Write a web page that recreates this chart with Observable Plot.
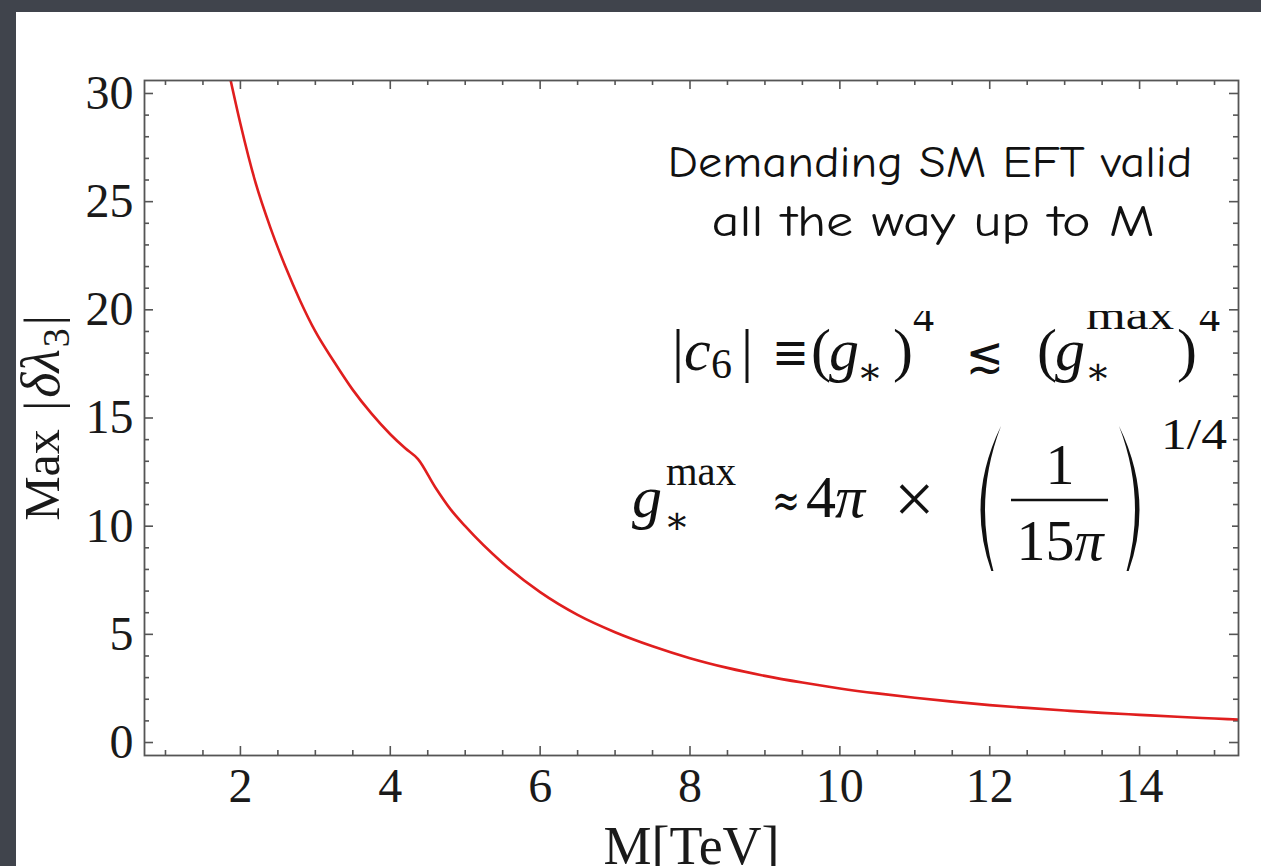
<!DOCTYPE html>
<html><head><meta charset="utf-8">
<script src="https://cdn.jsdelivr.net/npm/d3@7"></script>
<script src="https://cdn.jsdelivr.net/npm/@observablehq/plot@0.6"></script>
<style>
html,body{margin:0;padding:0;width:1261px;height:866px;overflow:hidden;background:#40444c;}
#panel{position:absolute;left:16px;top:12px;width:1245px;height:854px;background:#fff;}
#overlay{position:absolute;left:0;top:0;pointer-events:none;}
</style></head><body>
<div id="panel"></div>
<svg id="overlay" width="1261" height="866"></svg>
<script>
// ---- data ----
const massTeV = [1.87, 2.0, 2.2, 2.4, 2.6, 2.8, 3.0, 3.25, 3.5, 3.75, 4.0, 4.2, 4.37, 4.6, 4.8, 5.0, 5.5, 6.0, 6.5, 7.0, 7.5, 8.0, 8.5, 9.0, 9.5, 10.0, 10.5, 11.0, 11.5, 12.0, 12.5, 13.0, 13.5, 14.0, 14.5, 15.0, 15.32];
const maxDeltaLambda3 = [30.6, 28.6, 25.9, 23.8, 22.0, 20.4, 19.0, 17.6, 16.3, 15.2, 14.25, 13.6, 13.1, 11.8, 10.8, 10.0, 8.3, 6.95, 5.9, 5.1, 4.45, 3.9, 3.45, 3.08, 2.77, 2.5, 2.27, 2.07, 1.89, 1.73, 1.6, 1.48, 1.37, 1.28, 1.19, 1.11, 1.06];
const xMajorTicks = [2, 4, 6, 8, 10, 12, 14];
const xMinorTicks = [1, 1.5, 2.5, 3, 3.5, 4.5, 5, 5.5, 6.5, 7, 7.5, 8.5, 9, 9.5, 10.5, 11, 11.5, 12.5, 13, 13.5, 14.5, 15];
const yMajorTicks = [0, 5, 10, 15, 20, 25, 30];
const yMinorTicks = [1, 2, 3, 4, 6, 7, 8, 9, 11, 12, 13, 14, 16, 17, 18, 19, 21, 22, 23, 24, 26, 27, 28, 29];
const xLabel = "M[TeV]";
const yLabel = "Max |δλ3|";
const noteLines = ["Demanding SM EFT valid", "all the way up to M"];

const curve = massTeV.map((m, i) => ({m, v: maxDeltaLambda3[i]}));

const W = 1245, H = 854, mL = 128, mT = 68, mR = 23, mB = 111;
const innerW = W - mL - mR, innerH = H - mT - mB;
const ink = "#555";
const tk = {stroke: ink, strokeWidth: 1.6};
const id = d => d;

const chart = Plot.plot({
  width: W, height: H,
  marginLeft: mL, marginTop: mT, marginRight: mR, marginBottom: mB,
  style: {fontFamily: "'Liberation Serif', 'Times New Roman', serif", fontSize: "48px", color: "#1a1a1a", background: "transparent", overflow: "visible"},
  x: {domain: [0.72, 15.32], ticks: xMajorTicks, tickSize: 0, tickPadding: 12, label: null},
  y: {domain: [-0.6, 30.6], ticks: yMajorTicks, tickSize: 0, tickPadding: 11, label: null},
  marks: [
    Plot.tickX(xMajorTicks, {x: id, insetTop: innerH - 9, ...tk}),
    Plot.tickX(xMinorTicks, {x: id, insetTop: innerH - 5, ...tk}),
    Plot.tickX(xMajorTicks, {x: id, insetBottom: innerH - 9, ...tk}),
    Plot.tickX(xMinorTicks, {x: id, insetBottom: innerH - 5, ...tk}),
    Plot.tickY(yMajorTicks, {y: id, insetRight: innerW - 9, ...tk}),
    Plot.tickY(yMinorTicks, {y: id, insetRight: innerW - 5, ...tk}),
    Plot.tickY(yMajorTicks, {y: id, insetLeft: innerW - 9, ...tk}),
    Plot.tickY(yMinorTicks, {y: id, insetLeft: innerW - 5, ...tk}),
    Plot.line(curve, {x: "m", y: "v", stroke: "#e01e1e", strokeWidth: 2.6, curve: "monotone-x", clip: true}),
    Plot.frame({stroke: ink, strokeWidth: 1.8}),
    Plot.text([xLabel], {text: id, frameAnchor: "bottom", lineAnchor: "middle", textAnchor: "middle", dy: 91, fontSize: 54, fill: "#1a1a1a"}),
    Plot.text([yLabel], {text: id, frameAnchor: "left", lineAnchor: "middle", textAnchor: "middle", rotate: -90, dx: -102, fontSize: 50, fill: "#1a1a1a"})
  ]
});
document.getElementById("panel").appendChild(chart);

// italic delta-lambda with subscript in the y label
d3.select(chart).selectAll("text").filter(function() { return this.textContent === yLabel; }).each(function() {
  const t = d3.select(this);
  t.text(null);
  t.append("tspan").text("Max ");
  t.append("tspan").attr("dx", 6).text("|");
  t.append("tspan").attr("dx", 3).attr("font-style", "italic").attr("font-size", 54).text("δλ");
  t.append("tspan").attr("dx", 2).attr("font-size", 38).attr("dy", 10).text("3");
  t.append("tspan").attr("dx", 3).attr("dy", -10).text("|");
});

// ---- annotations ----
const ov = d3.select("#overlay");
const noteWidths = [525, 443];
const noteCenters = [930, 933];
ov.selectAll("text.note").data(noteLines).join("text")
  .attr("class", "note")
  .attr("x", (d, i) => noteCenters[i]).attr("y", (d, i) => 177 + i * 59)
  .attr("text-anchor", "middle")
  .attr("font-family", "'Comic Sans MS', 'Comic Neue', 'DejaVu Sans', sans-serif")
  .attr("font-size", 44)
  .attr("textLength", (d, i) => noteWidths[i]).attr("lengthAdjust", "spacingAndGlyphs")
  .attr("fill", "#111").text(d => d);

const bx = 628, by = 311, bw = 604, bh = 260;
ov.append("clipPath").attr("id", "mclip").append("rect").attr("x", bx).attr("y", by).attr("width", bw).attr("height", bh);
const mg = ov.append("g").attr("clip-path", "url(#mclip)");
mg.append("rect").attr("x", bx).attr("y", by).attr("width", bw).attr("height", bh).attr("fill", "#fff");
const ser = "'Liberation Serif', 'DejaVu Serif', serif";
const sym = "'DejaVu Serif', 'DejaVu Sans', serif";
function T(x, y, s, size, opt = {}) {
  const t = mg.append("text").attr("x", x).attr("y", y).attr("font-family", opt.font || ser).attr("font-size", size).attr("fill", "#111").text(s);
  if (opt.italic) t.attr("font-style", "italic");
  if (opt.anchor) t.attr("text-anchor", opt.anchor);
  if (opt.textLength) t.attr("textLength", opt.textLength).attr("lengthAdjust", "spacingAndGlyphs");
  return t;
}
// row 1: |c6| ≡ (g*)^4 ≲ (g*^max)^4
T(672, 370, "|", 60);
T(684, 370, "c", 60, {italic: true});
T(711, 378, "6", 42);
T(741, 370, "|", 60);
T(772, 370, "≡", 52, {font: sym, textLength: 37});
T(811, 370, "(", 60);
T(829, 370, "g", 60, {italic: true});
T(857, 384, "∗", 38);
T(893, 370, ")", 60);
T(913, 331, "4", 42);
T(966, 372, "≲", 50, {font: sym, textLength: 38});
T(1037, 370, "(", 60);
T(1055, 370, "g", 60, {italic: true});
T(1086, 329, "max", 42, {textLength: 88});
T(1085, 384, "∗", 38);
T(1177, 370, ")", 60);
T(1199, 331, "4", 42);
// row 2: g*^max ≈ 4π × (1/15π)^(1/4)
T(632, 517, "g", 60, {italic: true});
T(666, 485, "max", 42, {textLength: 70});
T(664, 533, "∗", 38);
T(772, 517, "≈", 48, {font: sym, textLength: 28});
T(806, 517, "4", 60);
T(835, 517, "π", 60, {italic: true});
T(894, 523, "×", 72);
// large parentheses
mg.append("path").attr("d", "M1001,426 Q960,510 1001,594 Q969,510 1001,426 Z").attr("fill", "#111");
mg.append("path").attr("d", "M1119,426 Q1160,510 1119,594 Q1151,510 1119,426 Z").attr("fill", "#111");
mg.append("line").attr("x1", 1011).attr("x2", 1108).attr("y1", 500).attr("y2", 500).attr("stroke", "#111").attr("stroke-width", 2.5);
T(1060, 484, "1", 58, {anchor: "middle"});
const den = T(1060, 560, "15", 58, {anchor: "middle"});
den.append("tspan").attr("font-style", "italic").text("π");
T(1161, 449, "1/4", 44, {textLength: 66});
</script>
</body></html>
